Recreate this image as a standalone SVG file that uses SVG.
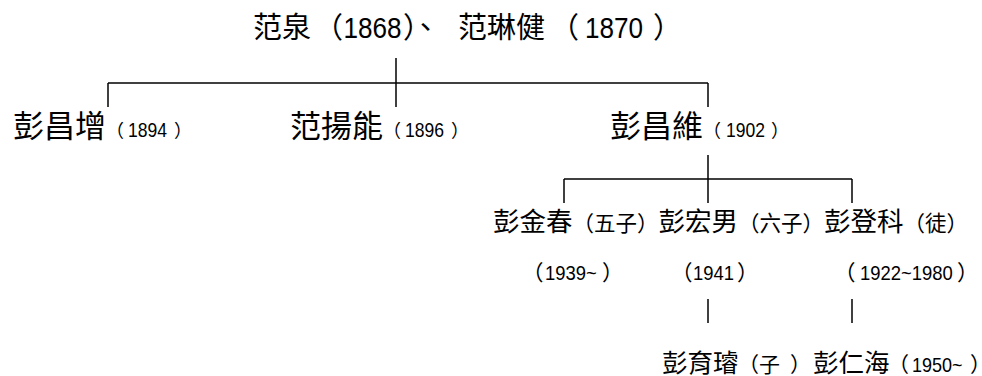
<svg xmlns="http://www.w3.org/2000/svg" width="982" height="376" viewBox="0 0 982 376">
<style>
text{font-family:"Liberation Sans","Noto Sans CJK TC",sans-serif;fill:#000;text-spacing-trim:space-all}
.conn line{stroke:#000;stroke-width:1.5}
</style>
<rect width="982" height="376" fill="#fff"/>
<g id="connectors" class="conn">
<line x1="396" y1="58" x2="396" y2="107"/>
<line x1="108" y1="83" x2="708" y2="83"/>
<line x1="108" y1="83" x2="108" y2="107"/>
<line x1="708" y1="83" x2="708" y2="107"/>
<line x1="708" y1="155" x2="708" y2="203"/>
<line x1="564" y1="179" x2="852" y2="179"/>
<line x1="564" y1="179" x2="564" y2="203"/>
<line x1="852" y1="179" x2="852" y2="203"/>
<line x1="708" y1="299" x2="708" y2="323"/>
<line x1="852" y1="299" x2="852" y2="323"/>
</g>
<g id="node-parents">
<text y="38" font-size="29"><tspan x="253">范泉</tspan><tspan x="314">（</tspan><tspan x="403" letter-spacing="-21">）、</tspan><tspan x="458" letter-spacing="0">范琳健</tspan><tspan x="550">（</tspan><tspan x="653">）</tspan></text>
<text transform="translate(343.5,38) scale(0.9,1)" font-size="29">1868</text>
<text transform="translate(585,38) scale(0.9,1)" font-size="29">1870</text>
</g>
<g id="node-pengchangzeng">
<text y="137"><tspan x="13" font-size="31">彭昌增</tspan><tspan x="106" font-size="18">（</tspan><tspan x="174" font-size="18">）</tspan></text>
<text transform="translate(128,137) scale(0.9,1)" font-size="19.5">1894</text>
</g>
<g id="node-fanyangneng">
<text y="137"><tspan x="290" font-size="31">范揚能</tspan><tspan x="383" font-size="18">（</tspan><tspan x="451" font-size="18">）</tspan></text>
<text transform="translate(405,137) scale(0.9,1)" font-size="19.5">1896</text>
</g>
<g id="node-pengchangwei">
<text y="137"><tspan x="610" font-size="31">彭昌維</tspan><tspan x="703" font-size="18">（</tspan><tspan x="771" font-size="18">）</tspan></text>
<text transform="translate(726,137) scale(0.9,1)" font-size="19.5">1902</text>
</g>
<g id="node-pengjinchun">
<text y="231"><tspan x="493" font-size="26.5">彭金春</tspan><tspan font-size="21.5">（五子）</tspan></text>
<text y="280" font-size="21.5"><tspan x="522">（</tspan><tspan x="602">）</tspan></text>
<text transform="translate(545,280) scale(0.9,1)" font-size="20.5">1939~</text>
</g>
<g id="node-penghongnan">
<text y="231"><tspan x="658.5" font-size="26.5">彭宏男</tspan><tspan font-size="21.5">（六子）</tspan></text>
<text y="280" font-size="21.5"><tspan x="671">（</tspan><tspan x="737">）</tspan></text>
<text transform="translate(693,280) scale(0.9,1)" font-size="20.5">1941</text>
</g>
<g id="node-pengdengke">
<text y="231"><tspan x="824" font-size="26.5">彭登科</tspan><tspan font-size="21.5">（徒）</tspan></text>
<text y="280" font-size="21.5"><tspan x="834">（</tspan><tspan x="957">）</tspan></text>
<text transform="translate(860,280) scale(0.9,1)" font-size="20.5">1922~1980</text>
</g>
<g id="node-pengyuxuan">
<text y="372"><tspan x="662" font-size="25.5">彭育璿</tspan><tspan x="738" font-size="21">（子</tspan><tspan x="790" font-size="21">）</tspan></text>
</g>
<g id="node-pengrenhai">
<text y="372"><tspan x="813" font-size="25.5">彭仁海</tspan><tspan x="888" font-size="21">（</tspan><tspan x="970" font-size="21" letter-spacing="-10">）</tspan></text>
<text transform="translate(912,372) scale(0.9,1)" font-size="20">1950~</text>
</g>
</svg>
